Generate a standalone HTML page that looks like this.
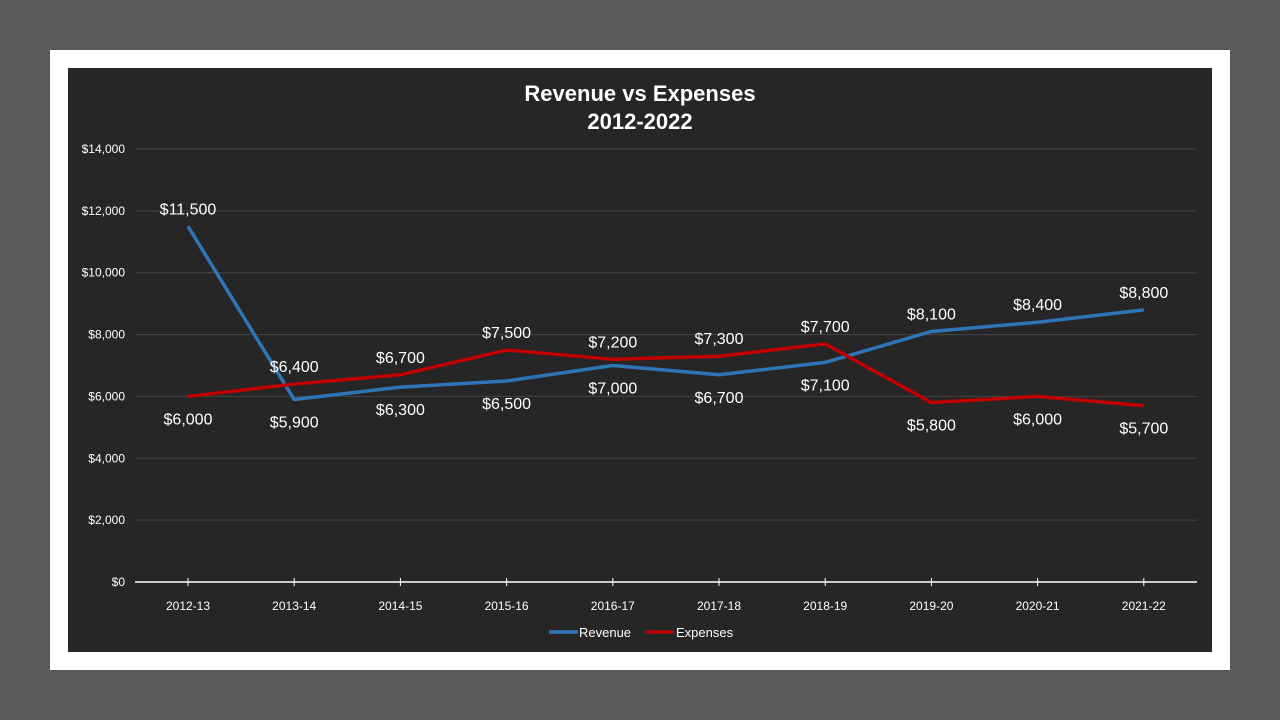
<!DOCTYPE html>
<html><head><meta charset="utf-8"><style>
body{margin:0;background:#5a5a5a;width:1280px;height:720px;overflow:hidden;font-family:"Liberation Sans",sans-serif}
svg{position:absolute;left:0;top:0}
</style></head><body>
<svg width="1280" height="720">
<rect x="50" y="50" width="1180" height="620" fill="#fff"/>
<rect x="68" y="68" width="1144" height="584" fill="#262626"/>
<text x="640" y="101" fill="#fff" font-size="22" font-weight="bold" text-anchor="middle">Revenue vs Expenses</text>
<text x="640" y="129" fill="#fff" font-size="22" font-weight="bold" text-anchor="middle">2012-2022</text>
<g id="grid"></g><g id="axes"></g><g id="series"></g>
<g>
<line x1="549" y1="632" x2="578" y2="632" stroke="#2e75b6" stroke-width="3.5"/>
<text x="579" y="637" fill="#fff" font-size="13">Revenue</text>
<line x1="645" y1="632" x2="674" y2="632" stroke="#c00000" stroke-width="3.5"/>
<text x="676" y="637" fill="#fff" font-size="13">Expenses</text>
</g>
</svg>
<script>
const categories=["2012-13","2013-14","2014-15","2015-16","2016-17","2017-18","2018-19","2019-20","2020-21","2021-22"];
const revenue=[11500,5900,6300,6500,7000,6700,7100,8100,8400,8800];
const expenses=[6000,6400,6700,7500,7200,7300,7700,5800,6000,5700];
const revLabelAbove=[1,0,0,0,0,0,0,1,1,1];
const expLabelAbove=[0,1,1,1,1,1,1,0,0,0];
const yTicks=[0,2000,4000,6000,8000,10000,12000,14000];
const NS="http://www.w3.org/2000/svg";
const y=v=>582-v*(433/14000);
const x=i=>188+i*106.2;
function mk(t,a,p){const e=document.createElementNS(NS,t);for(const k in a)e.setAttribute(k,a[k]);p.appendChild(e);return e;}
const fmt=v=>"$"+v.toLocaleString("en-US");
const grid=document.getElementById("grid"),axes=document.getElementById("axes"),ser=document.getElementById("series");
yTicks.forEach(v=>{
 if(v>0){const l=mk("line",{x1:135,x2:1197,y1:y(v),y2:y(v),stroke:"#444","stroke-width":1},grid);
 
 }
 const t=mk("text",{x:125,y:y(v)+4,fill:"#fff","font-size":12,"text-anchor":"end"},axes);t.textContent=fmt(v);
 
 
});
const ax=mk("line",{x1:135,x2:1197,y1:582,y2:582,stroke:"#fff","stroke-width":1.5},axes);


categories.forEach((c,i)=>{
 const tk=mk("line",{x1:x(i),x2:x(i),y1:578,y2:586,stroke:"#fff"},axes);
 
 
 const t=mk("text",{x:x(i),y:610,fill:"#fff","font-size":12,"text-anchor":"middle"},axes);t.textContent=c;
 
 
});
function series(vals,color,above,name){
 const p=mk("polyline",{points:vals.map((v,i)=>x(i)+","+y(v)).join(" "),fill:"none",stroke:color,"stroke-width":3.5,"stroke-linejoin":"round"},ser);
 
 
 vals.forEach((v,i)=>{
  const t=mk("text",{x:x(i),y:above[i]?y(v)-12:y(v)+28,fill:"#fff","font-size":16,"text-anchor":"middle"},ser);t.textContent=fmt(v);
  
  
 });
}
series(revenue,"#2e75b6",revLabelAbove,"revenue");
series(expenses,"#c00000",expLabelAbove,"expenses");
</script>
</body></html>
